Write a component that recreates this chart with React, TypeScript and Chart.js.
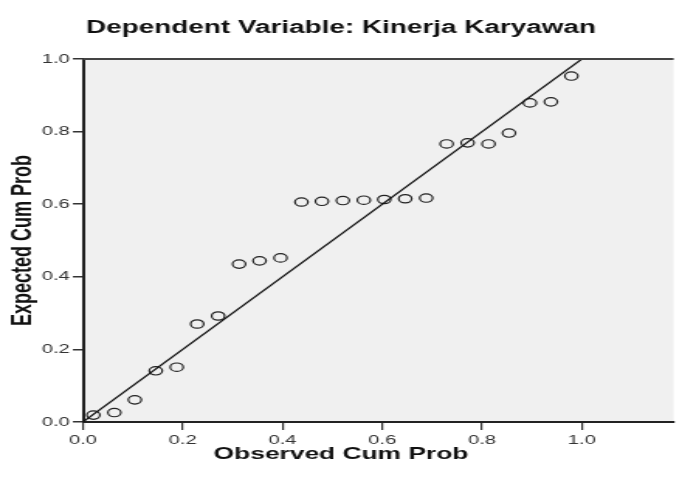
import React, { useEffect, useRef } from 'react';
import { Chart, registerables } from 'chart.js';

Chart.register(...registerables);

const chartTitle = 'Dependent Variable: Kinerja Karyawan';
const xAxisTitle = 'Observed Cum Prob';
const yAxisTitle = 'Expected Cum Prob';

const observedCumProb = [
  0.021, 0.063, 0.104, 0.146, 0.188, 0.229, 0.271, 0.313, 0.354, 0.396, 0.438, 0.479,
  0.521, 0.563, 0.604, 0.646, 0.688, 0.729, 0.771, 0.813, 0.854, 0.896, 0.938, 0.979,
];
const expectedCumProb = [
  0.019, 0.026, 0.061, 0.141, 0.151, 0.27, 0.292, 0.435, 0.444, 0.452, 0.606, 0.608,
  0.61, 0.611, 0.613, 0.615, 0.617, 0.766, 0.769, 0.766, 0.796, 0.879, 0.882, 0.953,
];
const refLineX = [0, 1];
const refLineY = [0, 1];
const tickValues = [0, 0.2, 0.4, 0.6, 0.8, 1.0];
const tickLabels = ['0.0', '0.2', '0.4', '0.6', '0.8', '1.0'];
const xMin = 0;
const xMax = 1.184;
const yMin = 0;
const yMax = 1;

const CANVAS_W = 440;
const CANVAS_H = 479;
const FONT = "'Liberation Sans', Arial, Helvetica, sans-serif";

const framePlugin = {
  id: 'sppsFrame',
  beforeDraw(chart: any) {
    const { ctx, chartArea: a } = chart;
    ctx.save();
    ctx.fillStyle = '#f0f0f0';
    ctx.fillRect(a.left, a.top, a.right - a.left, a.bottom - a.top);
    ctx.restore();
  },
  afterDraw(chart: any) {
    const { ctx, chartArea: a } = chart;
    ctx.save();
    ctx.strokeStyle = '#444';
    ctx.lineWidth = 2;
    ctx.beginPath();
    ctx.moveTo(a.left, a.top);
    ctx.lineTo(a.right, a.top);
    ctx.stroke();
    ctx.font = `bold 17px ${FONT}`;
    ctx.fillStyle = '#111';
    ctx.textAlign = 'center';
    ctx.textBaseline = 'alphabetic';
    ctx.fillText(xAxisTitle, 220, 459);
    ctx.restore();
  },
};

export default function App() {
  const ref = useRef<HTMLCanvasElement | null>(null);

  useEffect(() => {
    if (!ref.current) return;
    const points = observedCumProb.map((x, i) => ({ x, y: expectedCumProb[i] }));
    const line = refLineX.map((x, i) => ({ x, y: refLineY[i] }));
    const chart = new Chart(ref.current, {
      type: 'scatter',
      data: {
        datasets: [
          {
            data: line,
            showLine: true,
            borderColor: '#111',
            borderWidth: 1.2,
            pointRadius: 0,
            pointHoverRadius: 0,
          } as any,
          {
            data: points,
            pointStyle: 'circle',
            pointRadius: 4.2,
            pointBorderWidth: 1.2,
            borderColor: '#222',
            backgroundColor: 'rgba(0,0,0,0)',
            pointBackgroundColor: 'rgba(0,0,0,0)',
            pointBorderColor: '#222',
          } as any,
        ],
      },
      options: {
        animation: false,
        responsive: false,
        devicePixelRatio: 1,
        layout: { padding: 0 },
        plugins: {
          legend: { display: false },
          tooltip: { enabled: false },
          title: {
            display: true,
            text: chartTitle,
            color: '#111',
            font: { family: FONT, size: 18, weight: 'bold' },
            padding: { top: 17, bottom: 20.4 },
          },
        },
        scales: {
          x: {
            type: 'linear',
            min: xMin,
            max: xMax,
            afterBuildTicks: (s: any) => {
              s.ticks = tickValues.map((v) => ({ value: v }));
            },
            afterFit: (s: any) => {
              s.height = 57;
            },
            ticks: {
              callback: (_v: any, i: number) => tickLabels[i],
              color: '#333',
              font: { family: FONT, size: 13 },
              padding: 3,
              maxRotation: 0,
              autoSkip: false,
            },
            grid: {
              display: true,
              drawOnChartArea: false,
              drawTicks: true,
              tickLength: 8,
              color: '#333',
              lineWidth: 1.2,
            },
            border: { display: true, color: '#222', width: 2 },
            title: { display: false },
          },
          y: {
            type: 'linear',
            min: yMin,
            max: yMax,
            afterBuildTicks: (s: any) => {
              s.ticks = tickValues.map((v) => ({ value: v }));
            },
            afterFit: (s: any) => {
              s.width = 53.5;
            },
            ticks: {
              callback: (_v: any, i: number) => tickLabels[i],
              color: '#333',
              font: { family: FONT, size: 13 },
              padding: 2,
              autoSkip: false,
            },
            grid: {
              display: true,
              drawOnChartArea: false,
              drawTicks: true,
              tickLength: 6.5,
              color: '#333',
              lineWidth: 1.5,
            },
            border: { display: true, color: '#222', width: 2 },
            title: {
              display: true,
              text: yAxisTitle,
              color: '#111',
              font: { family: FONT, size: 18, weight: 'bold' },
              padding: { top: 4, bottom: 0 },
            },
          },
        },
      },
      plugins: [framePlugin],
    } as any);
    return () => chart.destroy();
  }, []);

  return (
    <div style={{ position: 'absolute', left: 0, top: 0, width: 682, height: 479, background: '#fff' }}>
      <canvas
        ref={ref}
        width={CANVAS_W}
        height={CANVAS_H}
        style={{ width: '682px', height: '479px', display: 'block' }}
      />
    </div>
  );
}
